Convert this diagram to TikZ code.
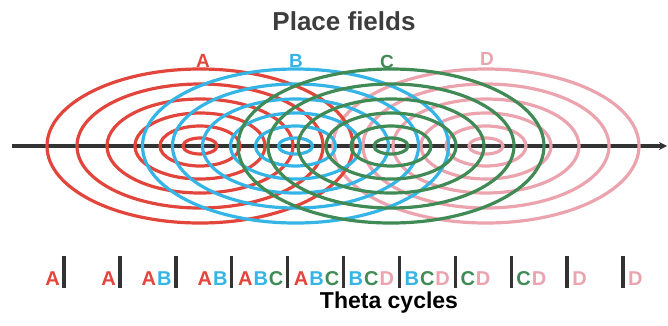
\documentclass[tikz,border=0pt]{standalone}
\usepackage{fontspec}
\setmainfont{Liberation Sans}
\usetikzlibrary{arrows.meta}
\definecolor{cA}{HTML}{E2453C}
\definecolor{cB}{HTML}{35B5E5}
\definecolor{cC}{HTML}{3F8A55}
\definecolor{cD}{HTML}{EBA3AE}
\definecolor{axisgray}{HTML}{333333}
\definecolor{titlegray}{HTML}{3D3D3D}
\newcommand\lA{\textcolor{cA}{A}}
\newcommand\lB{\textcolor{cB}{B}}
\newcommand\lC{\textcolor{cC}{C}}
\newcommand\lD{\textcolor{cD}{D}}
\newcommand\gap{\kern1pt}
\tikzset{
  ring/.style={line width=3.2pt},
  fieldlabel/.style={font=\bfseries\fontsize{19}{19}\selectfont, inner sep=0pt, anchor=base},
  cyclelbl/.style={font=\bfseries\fontsize{20}{20}\selectfont, inner sep=0pt},
  bar/.style={line width=3.4pt, draw=axisgray},
  axisline/.style={line width=3.4pt, draw=axisgray, -{Stealth[length=8pt,width=8pt]}}
}
\begin{document}
\begin{tikzpicture}[x=1pt,y=-1pt]
\useasboundingbox (0,0) rectangle (668,325);
% title
\node[font=\bfseries\fontsize{26}{26}\selectfont, text=titlegray, inner sep=0pt, anchor=base] (title) at (344,30) {Place fields};
% axis
\coordinate (axstart) at (12,146);
\coordinate (axend) at (667,146);
\draw[axisline] (axstart) -- (axend);
% place fields
\foreach \cx/\col in {486/cD,200/cA,295.5/cB,391/cC}{
  \foreach \w/\h in {17/8,40/20,65/33,93/47,123/62,153/77}{
    \draw[ring,\col] (\cx,146) ellipse [x radius=\w pt, y radius=\h pt];
  }
}
% field labels
\node[fieldlabel,text=cA] (labA) at (203,67) {A};
\node[fieldlabel,text=cB] (labB) at (296,67) {B};
\node[fieldlabel,text=cC] (labC) at (387,68) {C};
\node[fieldlabel,text=cD] (labD) at (487,65) {D};
% theta cycle bars
\foreach \i in {0,...,10}{
  \draw[bar] ({64+55.9*\i},256) -- ({64+55.9*\i},288);
}
% cycle letters (left of bars)
\node[cyclelbl,anchor=base east] (g1) at ({64+55.9*0-4},285) {\lA};
\node[cyclelbl,anchor=base east] (g2) at ({64+55.9*1-4},285) {\lA};
\node[cyclelbl,anchor=base east] (g3) at ({64+55.9*2-4},285) {\lA\gap\lB};
\node[cyclelbl,anchor=base east] (g4) at ({64+55.9*3-4},285) {\lA\gap\lB};
\node[cyclelbl,anchor=base east] (g5) at ({64+55.9*4-4},285) {\lA\gap\lB\gap\lC};
\node[cyclelbl,anchor=base east] (g6) at ({64+55.9*5-4},285) {\lA\gap\lB\gap\lC};
% cycle letters (right of bars)
\node[cyclelbl,anchor=base west] (g7) at ({64+55.9*5+5},285) {\lB\gap\lC\gap\lD};
\node[cyclelbl,anchor=base west] (g8) at ({64+55.9*6+5},285) {\lB\gap\lC\gap\lD};
\node[cyclelbl,anchor=base west] (g9) at ({64+55.9*7+5},285) {\lC\gap\lD};
\node[cyclelbl,anchor=base west] (g10) at ({64+55.9*8+5},285) {\lC\gap\lD};
\node[cyclelbl,anchor=base west] (g11) at ({64+55.9*9+5},285) {\lD};
\node[cyclelbl,anchor=base west] (g12) at ({64+55.9*10+5},285) {\lD};
% bottom title
\node[font=\bfseries\fontsize{23}{23}\selectfont, text=black, inner sep=0pt, anchor=base] (theta) at (389,308) {Theta cycles};
\end{tikzpicture}
\end{document}
